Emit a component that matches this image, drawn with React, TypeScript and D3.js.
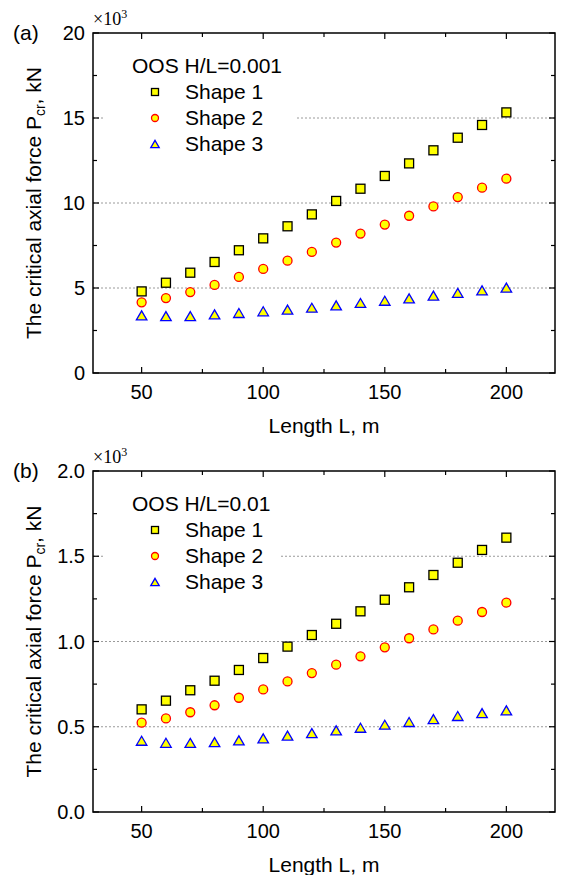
import React from "react";
import * as d3 from "d3";

const lengths = [50, 60, 70, 80, 90, 100, 110, 120, 130, 140, 150, 160, 170, 180, 190, 200];

const topShape1 = [4.80, 5.31, 5.90, 6.53, 7.22, 7.92, 8.63, 9.33, 10.12, 10.84, 11.59, 12.33, 13.10, 13.84, 14.59, 15.33];
const topShape2 = [4.16, 4.41, 4.76, 5.18, 5.65, 6.12, 6.61, 7.12, 7.67, 8.20, 8.73, 9.25, 9.80, 10.35, 10.90, 11.43];
const topShape3 = [3.39, 3.35, 3.35, 3.45, 3.53, 3.63, 3.73, 3.84, 3.98, 4.12, 4.25, 4.39, 4.55, 4.71, 4.86, 5.02];

const botShape1 = [0.602, 0.653, 0.714, 0.770, 0.833, 0.903, 0.970, 1.038, 1.104, 1.177, 1.245, 1.318, 1.390, 1.462, 1.537, 1.609];
const botShape2 = [0.524, 0.549, 0.585, 0.626, 0.670, 0.719, 0.766, 0.815, 0.864, 0.913, 0.966, 1.019, 1.071, 1.122, 1.173, 1.228];
const botShape3 = [0.418, 0.406, 0.405, 0.410, 0.420, 0.432, 0.448, 0.463, 0.479, 0.494, 0.512, 0.528, 0.545, 0.563, 0.580, 0.596];

const xTicks = [50, 100, 150, 200];
const xMinor = [75, 125, 175];
const topYTicks = [0, 5, 10, 15, 20];
const topYMinor = [2.5, 7.5, 12.5, 17.5];
const topGrid = [5, 10, 15];
const botYTicks = [0, 0.5, 1.0, 1.5, 2.0];
const botYMinor = [0.25, 0.75, 1.25, 1.75];
const botGrid = [0.5, 1.0, 1.5];
const seriesNames = ["Shape 1", "Shape 2", "Shape 3"];

const SANS = "Liberation Sans, Arial, sans-serif";
const SERIF = "Liberation Serif, Times New Roman, serif";

function Marker({ kind, x, y, s }: { kind: number; x: number; y: number; s: number }) {
  if (kind === 0) {
    return <rect x={x - s / 2} y={y - s / 2} width={s} height={s} fill="#ffff00" stroke="#000" strokeWidth={1.3} />;
  }
  if (kind === 1) {
    return <circle cx={x} cy={y} r={s / 2} fill="#ffff00" stroke="#ff0000" strokeWidth={1.3} />;
  }
  const h = s * 0.9;
  const w = s * 1.05;
  return (
    <path
      d={`M${x},${y - h / 2}L${x + w / 2},${y + h / 2}L${x - w / 2},${y + h / 2}Z`}
      fill="#ffff00"
      stroke="#0000ff"
      strokeWidth={1.3}
    />
  );
}

function Panel(props: {
  top: number;
  bottom: number;
  yMax: number;
  yTicks: number[];
  yMinor: number[];
  grid: number[];
  fmt: (v: number) => string;
  series: number[][];
  label: string;
  title: string;
  boxW: number;
}) {
  const left = 93;
  const right = 555;
  const { top, bottom } = props;
  const x = d3.scaleLinear().domain([30, 220]).range([left, right]);
  const y = d3.scaleLinear().domain([0, props.yMax]).range([bottom, top]);
  const cy = (top + bottom) / 2;
  const legX = 155;
  const rows = [top + 59, top + 85, top + 111];
  return (
    <g>
      {props.grid.map((g) => (
        <line key={"g" + g} x1={left} x2={right} y1={y(g)} y2={y(g)} stroke="#9a9a9a" strokeWidth={1} strokeDasharray="2,2" />
      ))}
      <rect x={105} y={top + 14} width={props.boxW} height={110} fill="#fff" />
      <text x={132} y={top + 40} fontFamily={SANS} fontSize={21}>{props.title}</text>
      {seriesNames.map((n, i) => (
        <g key={n}>
          <Marker kind={i} x={legX} y={rows[i]} s={i === 2 ? 8 : 7} />
          <text x={185} y={rows[i] + 7} fontFamily={SANS} fontSize={21}>{n}</text>
        </g>
      ))}
      {props.series.map((vals, si) => (
        <g key={"s" + si}>
          {vals.map((v, i) => (
            <Marker key={i} kind={si} x={x(lengths[i])} y={y(v)} s={si === 2 ? 10 : 9} />
          ))}
        </g>
      ))}
      <rect x={left} y={top} width={right - left} height={bottom - top} fill="none" stroke="#000" strokeWidth={1.5} />
      {xTicks.map((t) => (
        <g key={"xt" + t}>
          <line x1={x(t)} x2={x(t)} y1={bottom} y2={bottom - 6} stroke="#000" strokeWidth={1.2} />
          <line x1={x(t)} x2={x(t)} y1={top} y2={top + 6} stroke="#000" strokeWidth={1.2} />
          <text x={x(t)} y={bottom + 26} textAnchor="middle" fontFamily={SANS} fontSize={20}>{t}</text>
        </g>
      ))}
      {xMinor.map((t) => (
        <g key={"xm" + t}>
          <line x1={x(t)} x2={x(t)} y1={bottom} y2={bottom - 4} stroke="#000" strokeWidth={1.2} />
          <line x1={x(t)} x2={x(t)} y1={top} y2={top + 4} stroke="#000" strokeWidth={1.2} />
        </g>
      ))}
      {props.yTicks.map((t) => (
        <g key={"yt" + t}>
          <line x1={left} x2={left + 6} y1={y(t)} y2={y(t)} stroke="#000" strokeWidth={1.2} />
          <line x1={right} x2={right - 6} y1={y(t)} y2={y(t)} stroke="#000" strokeWidth={1.2} />
          <text x={85} y={y(t) + 7} textAnchor="end" fontFamily={SANS} fontSize={20}>{props.fmt(t)}</text>
        </g>
      ))}
      {props.yMinor.map((t) => (
        <g key={"ym" + t}>
          <line x1={left} x2={left + 4} y1={y(t)} y2={y(t)} stroke="#000" strokeWidth={1.2} />
          <line x1={right} x2={right - 4} y1={y(t)} y2={y(t)} stroke="#000" strokeWidth={1.2} />
        </g>
      ))}
      <text x={93} y={top - 8} fontFamily={SERIF} fontSize={18}>
        ×10<tspan fontSize={12} dy={-7}>3</tspan>
      </text>
      <text x={13} y={top + 7} fontFamily={SANS} fontSize={21}>{props.label}</text>
      <text x={(left + right) / 2} y={bottom + 60} textAnchor="middle" fontFamily={SANS} fontSize={21}>Length L, m</text>
      <text transform={`translate(41,${cy}) rotate(-90)`} textAnchor="middle" fontFamily={SANS} fontSize={21}>
        The critical axial force P<tspan fontSize={14} dy={4}>cr</tspan><tspan dy={-4}>, kN</tspan>
      </text>
    </g>
  );
}

export default function App() {
  return (
    <svg width={561} height={875} style={{ position: "absolute", left: 0, top: 0, background: "#fff" }}>
      <rect width={561} height={875} fill="#fff" />
      <Panel
        top={33}
        bottom={373}
        yMax={20}
        yTicks={topYTicks}
        yMinor={topYMinor}
        grid={topGrid}
        fmt={(v) => d3.format("d")(v)}
        series={[topShape1, topShape2, topShape3]}
        label="(a)"
        title="OOS H/L=0.001"
        boxW={190}
      />
      <Panel
        top={471}
        bottom={812}
        yMax={2}
        yTicks={botYTicks}
        yMinor={botYMinor}
        grid={botGrid}
        fmt={(v) => d3.format(".1f")(v)}
        series={[botShape1, botShape2, botShape3]}
        label="(b)"
        title="OOS H/L=0.01"
        boxW={175}
      />
    </svg>
  );
}
